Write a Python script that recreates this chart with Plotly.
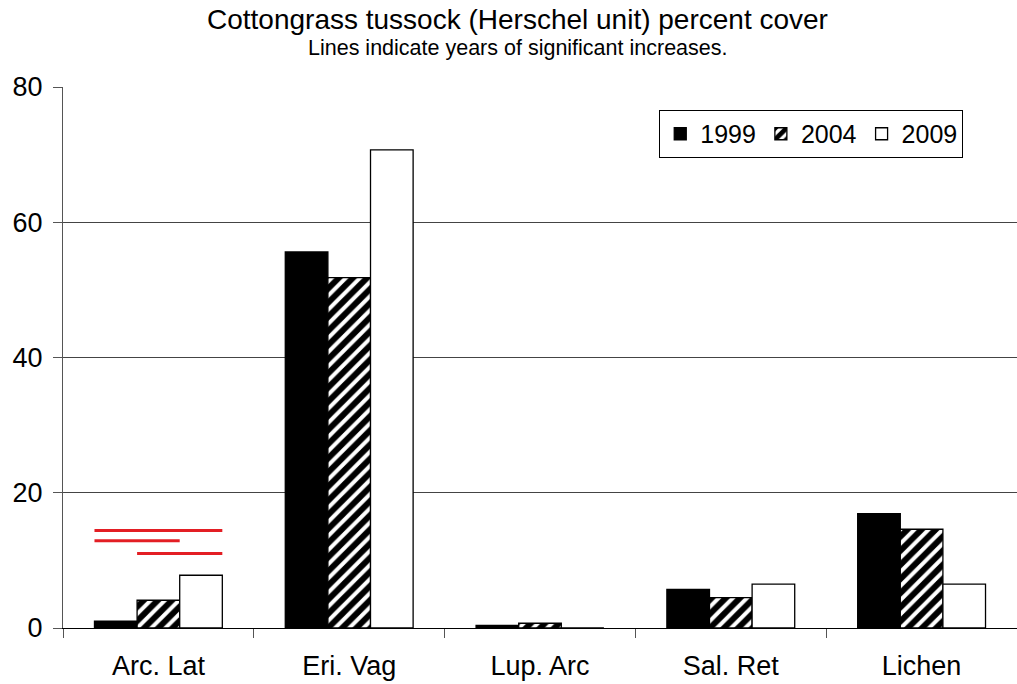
import plotly.graph_objects as go

categories = ["Arc. Lat", "Eri. Vag", "Lup. Arc", "Sal. Ret", "Lichen"]
years = ["1999", "2004", "2009"]
cover_1999 = [1.0, 55.6, 0.4, 5.7, 16.9]
cover_2004 = [4.1, 51.8, 0.7, 4.5, 14.6]
cover_2009 = [7.8, 70.7, 0.0, 6.5, 6.5]

# significant increases (Arc. Lat): from year, to year, drawn level
sig_category = ["Arc. Lat", "Arc. Lat", "Arc. Lat"]
sig_from = ["1999", "1999", "2004"]
sig_to = ["2009", "2004", "2009"]
sig_level = [14.4, 12.9, 11.0]

yticks = [0, 20, 40, 60, 80]

FONT = "Liberation Sans, Arial, sans-serif"
BARGAP = 0.33

fig = go.Figure()
series = [cover_1999, cover_2004, cover_2009]
styles = [
    dict(color="black", pattern=dict(shape="")),
    dict(color="white", pattern=dict(shape="/", fgcolor="black", bgcolor="white",
                                     size=10, solidity=0.6, fgopacity=1)),
    dict(color="white", pattern=dict(shape="")),
]
for yr, vals, st in zip(years, series, styles):
    fig.add_trace(go.Bar(
        x=categories, y=vals, name=yr,
        marker=dict(color=st["color"], pattern=st["pattern"],
                    line=dict(color="black", width=1.3)),
    ))

w = (1 - BARGAP) / 3
for cat, f, t, lvl in zip(sig_category, sig_from, sig_to, sig_level):
    ci = categories.index(cat)
    x0 = ci - 1.5 * w + years.index(f) * w
    x1 = ci - 1.5 * w + (years.index(t) + 1) * w
    fig.add_shape(type="line", xref="x", yref="y", x0=x0, x1=x1, y0=lvl, y1=lvl,
                  line=dict(color="#e31e24", width=3))

PLOT_L, PLOT_W = 63, 954
cx = (517 - PLOT_L) / PLOT_W

fig.update_layout(
    width=1017, height=684,
    margin=dict(l=63, r=0, t=87, b=56, autoexpand=False),
    paper_bgcolor="white", plot_bgcolor="white",
    barmode="group", bargap=BARGAP, bargroupgap=0,
    font=dict(family=FONT, color="black", size=27),
    showlegend=True,
    legend=dict(orientation="h", x=0.625, y=0.9575, xanchor="left", yanchor="top",
                bordercolor="black", borderwidth=1, bgcolor="white",
                font=dict(size=25), itemwidth=30, tracegroupgap=0),
    xaxis=dict(type="category", range=[-0.5, 4.5], showline=True, linecolor="black",
               linewidth=1, ticks="outside", tickson="boundaries", ticklen=9,
               tickcolor="#555", showgrid=False, tickfont=dict(size=27),
               ticklabelstandoff=14),
    yaxis=dict(range=[0, 80], tickvals=yticks, showline=True, linecolor="#555",
               linewidth=1, ticks="outside", ticklen=9, tickcolor="#555",
               showgrid=True, gridcolor="#444", gridwidth=1, zeroline=False,
               tickfont=dict(size=27), ticklabelstandoff=5),
    annotations=[
        dict(text="Cottongrass tussock (Herschel unit) percent cover", xref="paper", yref="paper",
             x=cx, y=1, yshift=87 - 19, xanchor="center", yanchor="middle",
             showarrow=False, font=dict(size=28)),
        dict(text="Lines indicate years of significant increases.", xref="paper", yref="paper",
             x=cx, y=1, yshift=87 - 48, xanchor="center", yanchor="middle",
             showarrow=False, font=dict(size=21.5)),
    ],
)

fig.write_html("out.html", config={"displayModeBar": False},
               post_script="document.body.style.margin='0';document.body.style.overflow='hidden';")
